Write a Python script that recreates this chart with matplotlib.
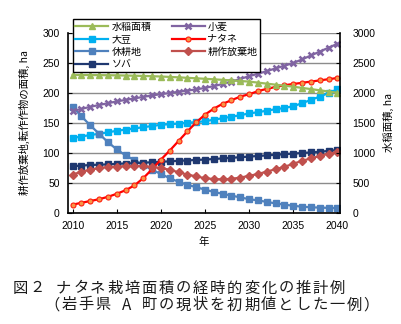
import matplotlib
matplotlib.use("Agg")
import matplotlib.pyplot as plt

plt.rcParams['font.family'] = ['Noto Sans CJK JP', 'DejaVu Sans']

years = list(range(2010, 2041))

# 水稲面積 (right axis, ha)
paddy = [2300, 2300, 2299, 2298, 2296, 2294, 2291, 2288, 2284, 2280, 2275,
         2268, 2261, 2253, 2245, 2237, 2228, 2219, 2210, 2200, 2190,
         2173, 2156, 2139, 2122, 2105, 2085, 2065, 2045, 2025, 2005]
# 小麦
wheat = [170, 173.5, 177, 180, 183, 186, 188.5, 191, 193.5, 196, 198,
         200, 202, 204, 206, 208.5, 211.5, 215, 219, 223.5, 228,
         232, 236.5, 241, 245.5, 250, 256, 262.5, 269, 275.5, 282]
# 大豆
soybean = [125, 127.5, 130, 132, 134.5, 137, 139, 141, 143, 145, 147,
           148, 149, 150.5, 151.5, 153, 155.5, 158, 160.5, 163, 166,
           168, 170.5, 173, 175, 178, 183, 188.5, 194, 200, 206]
# ナタネ
rapeseed = [14, 17, 20, 23, 27, 32, 38, 46, 58, 73, 89,
            104, 120, 136, 151, 164, 174, 182, 188, 194, 198,
            203, 207, 210, 213, 215, 217, 219, 221, 223, 225]
# 休耕地
fallow = [177, 161, 146, 132, 118, 106, 96, 88, 80, 72, 65,
          58, 52, 47, 43, 39, 35, 32, 29, 26, 23,
          21, 18.5, 16, 14, 12, 10.5, 9.5, 9, 8.5, 8]
# 耕作放棄地
abandoned = [64, 69, 72, 75, 76.5, 77.5, 78, 78.5, 78, 77, 75,
             72, 68, 64, 61, 58, 56.5, 56, 57, 59, 62,
             65, 69, 73, 77, 82, 87, 91, 95, 99, 101]
# ソバ
buckwheat = [78, 79, 80, 80.5, 81, 82, 82.5, 83, 84, 84.5, 85.5,
             86, 87, 87.5, 88.5, 89, 90, 91, 92, 93, 94,
             95, 96, 97, 98, 99, 100, 101, 102, 103.5, 105]

left_ticks = [0, 50, 100, 150, 200, 250, 300]
right_ticks = [0, 500, 1000, 1500, 2000, 2500, 3000]
x_ticks = [2010, 2015, 2020, 2025, 2030, 2035, 2040]

caption_line1 = '図２ ナタネ栽培面積の経時的変化の推計例'
caption_line2 = '（岩手県 A 町の現状を初期値とした一例）'

W, H = 402, 324
fig = plt.figure(figsize=(W / 100, H / 100), dpi=100)
ax = fig.add_axes([68/W, 1-213/H, (340-68)/W, 180/H])
ax2 = ax.twinx()

ax.set_ylim(0, 300)
ax.set_xlim(2009.47, 2040.3)
ax2.set_ylim(0, 3000)
ax.set_yticks(left_ticks)
ax2.set_yticks(right_ticks)
ax.set_xticks(x_ticks)
ax.grid(axis='y', color='#8c8c8c', linewidth=1.0, zorder=0)
ax.set_axisbelow(True)

for a in (ax, ax2):
    a.spines['top'].set_visible(False)
ax.spines['right'].set_visible(False)
ax2.spines['left'].set_visible(False)
ax2.spines['bottom'].set_visible(False)
for s in ('left', 'bottom'):
    ax.spines[s].set_linewidth(1.2)
ax2.spines['right'].set_linewidth(1.2)

ax.tick_params(axis='y', direction='in', length=3, width=0.8, pad=6)
ax.tick_params(axis='x', direction='in', length=3, width=0.8, pad=6)
ax2.tick_params(axis='y', direction='in', length=3, width=0.8, pad=9)

for lab in ax.get_xticklabels() + ax.get_yticklabels() + ax2.get_yticklabels():
    lab.set_fontfamily('Liberation Sans')
    lab.set_fontsize(7.5)

lw = 1.6
h_paddy, = ax2.plot(years, paddy, color='#9BBB59', lw=lw, marker='^', ms=4.2,
                    mec='#9BBB59', mfc='#9BBB59', label='水稲面積')
h_soy, = ax.plot(years, soybean, color='#00B0F0', lw=lw, marker='s', ms=3.8,
                 mec='#00B0F0', mfc='#00B0F0', label='大豆')
h_fallow, = ax.plot(years, fallow, color='#4F81BD', lw=lw, marker='s', ms=3.8,
                    mec='#4F81BD', mfc='#4F81BD', label='休耕地')
h_buck, = ax.plot(years, buckwheat, color='#1F3870', lw=lw, marker='s', ms=3.8,
                  mec='#1F3870', mfc='#1F3870', label='ソバ')
h_wheat, = ax.plot(years, wheat, color='#8064A2', lw=lw, marker='x', ms=4.8,
                   mew=1.8, mec='#8064A2', label='小麦')
h_rape, = ax.plot(years, rapeseed, color='#FF0000', lw=lw, marker='o', ms=3.6,
                  mec='#FF2010', mfc='#F79646', mew=0.8, label='ナタネ')
h_aband, = ax.plot(years, abandoned, color='#C0504D', lw=lw, marker='D', ms=3.8,
                   mec='#C0504D', mfc='#C0504D', label='耕作放棄地')

handles = [h_paddy, h_soy, h_fallow, h_buck, h_wheat, h_rape, h_aband]
leg = fig.legend(handles=handles, labels=[h.get_label() for h in handles],
                 ncol=2, loc='upper left', bbox_to_anchor=(73/W, 1-19/H),
                 borderaxespad=0, fontsize=7.2, frameon=True, fancybox=False,
                 framealpha=1, edgecolor='black', handlelength=3.3,
                 handletextpad=0.3, columnspacing=2.0, labelspacing=0.25,
                 borderpad=0.25)
leg.get_frame().set_linewidth(1.0)

ax.set_ylabel('耕作放棄地,転作作物の面積, ha', fontsize=7.5, labelpad=9)
ax2.set_ylabel('水稲面積, ha', fontsize=7.5, rotation=90, labelpad=5)
ax.set_xlabel('年', fontsize=7.5, labelpad=4)

# Caption set with a fixed character pitch; narrow glyphs take part of a slot.
SLOT = {' ': 0.55, 'A': 0.6, '（': 0.6, '）': 0.6}
NUDGE = {'（': -3.0, '）': 2.5}


def pitched_line(text, x0, y, pitch, size=11):
    x = x0
    for ch in text:
        w = SLOT.get(ch, 1.0) * pitch
        if ch != ' ':
            fig.text((x + w / 2 + NUDGE.get(ch, 0.0)) / W, 1 - y / H, ch,
                     fontsize=size, ha='center', va='center', color='#1a1a1a')
        x += w


pitched_line(caption_line1, 11.5, 288, 17.1)
pitched_line(caption_line2, 50.0, 305, 17.1)

fig.savefig('out.png', dpi=100)
